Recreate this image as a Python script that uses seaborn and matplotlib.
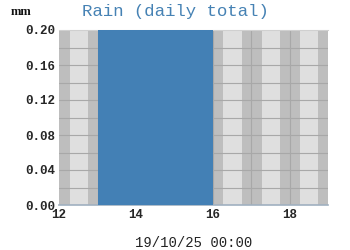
import numpy as np
import pandas as pd
import matplotlib
matplotlib.use("Agg")
import matplotlib.pyplot as plt
import seaborn as sns

# Data
day_start = [12, 13, 14, 15, 16, 17, 18]
rain_mm = [0.0, 0.2, 0.2, 0.2, 0.0, 0.0, 0.0]
x_ticks = [12, 14, 16, 18]
y_ticks = [0.00, 0.04, 0.08, 0.12, 0.16, 0.20]
title = "Rain (daily total)"
x_label = "19/10/25 00:00"
y_unit = "mm"

df = pd.DataFrame({"day": day_start, "rain": rain_mm})

sns.set_style("white")
fig = plt.figure(figsize=(3.5, 2.5), dpi=100)
ax = fig.add_axes([0.169, 0.18, 0.768, 0.70])

# day/night background shading
for d in range(12, 19):
    ax.axvspan(d, d + 1, color="#BEBEBE", lw=0, zorder=0)
    ax.axvspan(d + 0.27, d + 0.75, color="#DFDFDF", lw=0, zorder=0)

sns.histplot(data=df, x="day", weights="rain", binwidth=1, binrange=(12, 19),
             color="#4380B5", alpha=1, edgecolor="none", linewidth=0,
             ax=ax, zorder=3)

ax.set_xlim(12, 19)
ax.set_ylim(0, 0.2)
for yv in np.arange(0.02, 0.2, 0.02):
    ax.axhline(yv, color="#A8A8A8", lw=0.8, zorder=1)
for xv in range(13, 19):
    ax.axvline(xv, color="#A8A8A8", lw=0.8, zorder=1)

ax.set_xticks(x_ticks)
ax.set_yticks(y_ticks)
ax.set_yticklabels([f"{v:.2f}" for v in y_ticks])
mono = {"family": "Liberation Mono", "weight": "bold", "size": 9}
for lab in ax.get_xticklabels() + ax.get_yticklabels():
    lab.set_fontproperties(matplotlib.font_manager.FontProperties(**mono))
ax.tick_params(axis="both", length=2, width=0.6, color="#888888", pad=1)
ax.tick_params(axis="x", length=0, pad=3)

for s in ["left", "right", "top"]:
    ax.spines[s].set_visible(False)
ax.spines["bottom"].set_color("#A0B0C0")
ax.spines["bottom"].set_linewidth(1.2)
ax.spines["top"].set_visible(True)
ax.spines["top"].set_color("#D0D0D0")

ax.set_ylabel("")
ax.set_xlabel(x_label, family="Liberation Mono", size=10, color="#222222", labelpad=11)
fig.text(0.5, 0.955, title, family="Liberation Mono", size=12.5, color="#4682B4",
         ha="center", va="center")
fig.text(0.03, 0.952, y_unit, family="Liberation Serif", weight="bold", size=9,
         color="#111111", ha="left", va="center")

fig.savefig("out.png", dpi=100)
